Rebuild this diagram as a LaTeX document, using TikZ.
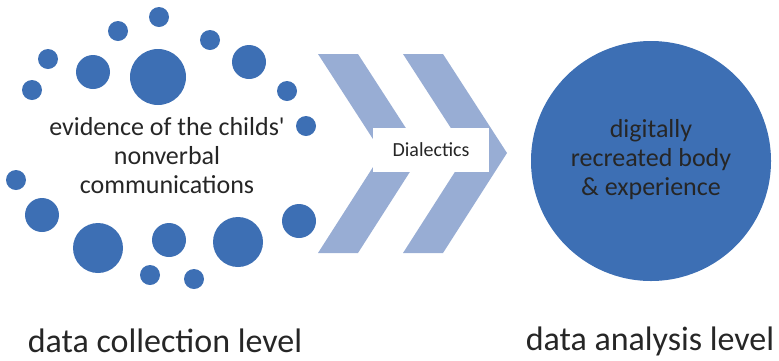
\documentclass[tikz,border=0pt]{standalone}
\usepackage{fontspec}
\setmainfont{Carlito}
\definecolor{dotblue}{RGB}{61,111,180}
\definecolor{chevblue}{RGB}{152,173,212}
\definecolor{txt}{RGB}{38,38,38}
\tikzset{
  dot/.style={fill=dotblue},
  chevron/.style={fill=chevblue},
  words/.style={text=txt, align=center, font=\fontsize{26}{29}\selectfont},
  levellabel/.style={text=txt, font=\fontsize{34}{38}\selectfont}
}
\begin{document}
\begin{tikzpicture}[x=1pt,y=-1pt]
\useasboundingbox (0,0) rectangle (779,360);
\foreach \cx/\cy/\r in {159/17/10,118/31/10,210/40/10,48/59/10,93/72/17,158/77/28,249/62/17,32/90/10,287/91/10,306/126/10,16/180/10,42/215/17,98/248/25,169/240/17,238/242/25,299/221/17,150/275/10,194/279/10}
  \fill[dot] (\cx,\cy) circle[radius=\r pt];
\node[words] (evidence) at (167,156) {evidence of the childs\textquotesingle\\nonverbal\\communications};
\foreach \s in {0,85}
  \fill[chevron,xshift=\s pt] (318,54) -- (358,54) -- (422,153) -- (358,253) -- (318,253) -- (382,153) -- cycle;
\node[fill=white, minimum width=116pt, minimum height=44pt, text=txt, font=\fontsize{20}{24}\selectfont] (dialectics) at (431,150) {Dialectics};
\node[circle, fill=dotblue, minimum size=240pt, inner sep=0pt] (body) at (651,161) {};
\node[words] (bodytext) at (651,160) {digitally\\recreated body\\\& experience};
\node[levellabel] (collection) at (165,341) {data collection level};
\node[levellabel] (analysis) at (650,341) {data analysis level};
\end{tikzpicture}
\end{document}
